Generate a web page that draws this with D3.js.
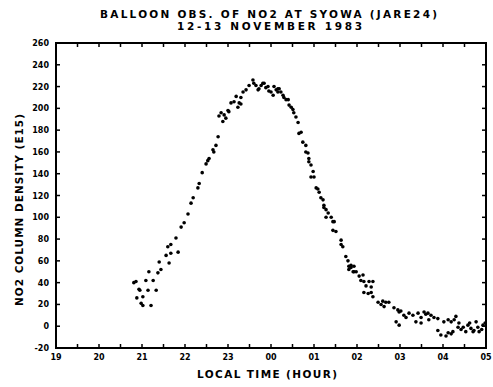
<!DOCTYPE html>
<html><head><meta charset="utf-8">
<script src="https://cdn.jsdelivr.net/npm/d3@7"></script>
<style>body{margin:0;background:#fff}svg{display:block}</style>
</head><body>
<svg id="c" width="493" height="387"></svg>
<script>
const titleLines = ["BALLOON OBS. OF NO2 AT SYOWA (JARE24)", "12-13 NOVEMBER 1983"];
const xLabel = "LOCAL TIME (HOUR)";
const yLabel = "NO2 COLUMN DENSITY (E15)";
const xTickValues = [19,20,21,22,23,24,25,26,27,28,29];
const xTickLabels = ["19","20","21","22","23","00","01","02","03","04","05"];
const xMinorTicks = [19.5,20.5,21.5,22.5,23.5,24.5,25.5,26.5,27.5,28.5];
const yTickValues = [-20,0,20,40,60,80,100,120,140,160,180,200,220,240,260];

// local time in hours (24+ = after midnight)
const hours = [20.81,20.86,20.88,20.93,20.95,20.98,21.02,21.02,21.09,21.14,21.16,21.21,21.26,21.33,21.37,21.40,21.44,21.56,21.60,21.63,21.67,21.67,21.79,21.84,21.91,21.98,22.07,22.14,22.19,22.30,22.33,22.40,22.49,22.53,22.56,22.65,22.67,22.72,22.77,22.79,22.84,22.88,22.91,22.95,23.00,23.02,23.07,23.14,23.19,23.23,23.26,23.30,23.30,23.35,23.42,23.49,23.58,23.60,23.65,23.70,23.72,23.77,23.81,23.84,23.88,23.93,23.95,24.00,24.05,24.07,24.12,24.16,24.16,24.19,24.23,24.28,24.30,24.35,24.40,24.42,24.47,24.51,24.53,24.58,24.63,24.65,24.70,24.74,24.81,24.81,24.86,24.88,24.88,24.93,24.98,25.00,24.93,25.05,25.09,25.12,25.16,25.21,25.23,25.23,25.28,25.33,25.28,25.40,25.44,25.47,25.44,25.51,25.63,25.63,25.67,25.74,25.79,25.81,25.81,25.86,25.86,25.91,25.93,25.93,25.98,26.05,26.09,26.14,26.16,26.16,26.21,26.26,26.28,26.33,26.33,26.37,26.37,26.49,26.56,26.60,26.63,26.67,26.74,26.86,26.91,26.95,26.98,26.98,27.09,27.21,27.30,27.37,27.42,27.49,27.49,27.56,27.65,27.67,27.72,27.79,27.88,27.88,27.95,28.02,28.07,28.12,28.12,28.19,28.19,28.26,28.23,28.35,28.37,28.47,28.53,28.58,28.65,28.70,28.72,28.81,28.84,28.93,28.98,27.02,27.14,27.60,28.30,28.42,28.62,28.77,28.90];
const no2 = [40,41,26,34,33,21,27,19,42,33,50,19,42,33,49,59,52,65,73,58,67,75,81,68,91,95,103,113,118,127,131,141,149,152,154,162,160,166,174,193,196,188,194,191,198,197,205,206,211,201,205,204,210,215,217,221,226,223,221,217,218,221,223,223,219,220,216,215,212,220,217,218,215,218,215,212,210,208,208,203,201,199,196,192,187,177,178,169,166,160,159,154,151,148,142,137,137,127,126,123,118,116,111,109,107,104,100,100,96,96,88,87,79,75,73,64,60,55,52,56,54,50,55,50,50,46,42,47,41,31,37,30,41,36,31,41,27,22,20,23,18,22,22,17,4,15,13,1,10,12,10,4,12,8,3,13,12,6,10,8,7,-4,-8,4,-9,6,-6,4,-7,6,-5,-1,3,-1,-5,1,-2,-5,-4,-1,-5,1,3,14,8,11,9,-3,3,4,-3];

const svg = d3.select("#c");
const L = 56, R = 486, T = 43, B = 348;
const x = d3.scaleLinear().domain([19, 29]).range([L, R]);
const y = d3.scaleLinear().domain([-20, 260]).range([B, T]);
const font = "'DejaVu Sans', sans-serif";

// frame
svg.append("rect").attr("x", L).attr("y", T).attr("width", R - L).attr("height", B - T)
  .attr("fill", "none").attr("stroke", "#000").attr("stroke-width", 2);

const tl = 4;
const allX = xTickValues.concat(xMinorTicks);
const g = svg.append("g").attr("stroke", "#000").attr("stroke-width", 1.5);
allX.forEach(v => {
  g.append("line").attr("x1", x(v)).attr("x2", x(v)).attr("y1", B).attr("y2", B - tl);
  g.append("line").attr("x1", x(v)).attr("x2", x(v)).attr("y1", T).attr("y2", T + tl);
});
yTickValues.forEach(v => {
  g.append("line").attr("x1", L).attr("x2", L + tl).attr("y1", y(v)).attr("y2", y(v));
  g.append("line").attr("x1", R).attr("x2", R - tl).attr("y1", y(v)).attr("y2", y(v));
});

// tick labels
svg.append("g").selectAll("text").data(xTickValues).join("text")
  .attr("x", d => x(d)).attr("y", 360).attr("text-anchor", "middle")
  .attr("font-family", font).attr("font-weight", "bold").attr("font-size", 8)
  .text((d, i) => xTickLabels[i]);
svg.append("g").selectAll("text").data(yTickValues).join("text")
  .attr("x", 49).attr("y", d => y(d) + 3).attr("text-anchor", "end")
  .attr("font-family", font).attr("font-weight", "bold").attr("font-size", 8)
  .text(d => d);

// points
svg.append("g").selectAll("circle").data(hours).join("circle")
  .attr("cx", d => x(d)).attr("cy", (d, i) => y(no2[i])).attr("r", 1.8).attr("fill", "#000");

// titles
svg.append("text").attr("x", 100).attr("y", 18).attr("textLength", 337).attr("lengthAdjust", "spacing")
  .attr("font-family", font).attr("font-weight", "bold").attr("font-size", 10.5).text(titleLines[0]);
svg.append("text").attr("x", 177).attr("y", 30).attr("textLength", 185).attr("lengthAdjust", "spacing")
  .attr("font-family", font).attr("font-weight", "bold").attr("font-size", 10.5).text(titleLines[1]);
svg.append("text").attr("x", 197).attr("y", 378).attr("textLength", 140).attr("lengthAdjust", "spacing")
  .attr("font-family", font).attr("font-weight", "bold").attr("font-size", 10.5).text(xLabel);
svg.append("text").attr("transform", "translate(23,306) rotate(-90)").attr("textLength", 192).attr("lengthAdjust", "spacing")
  .attr("font-family", font).attr("font-weight", "bold").attr("font-size", 10.5).text(yLabel);
</script>
</body></html>
